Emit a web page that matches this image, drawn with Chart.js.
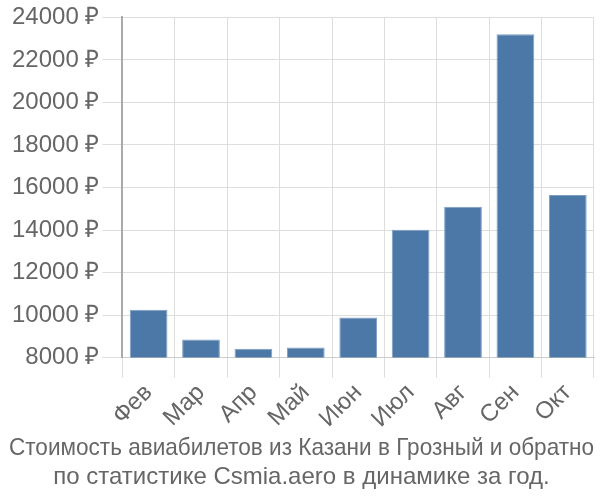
<!DOCTYPE html>
<html>
<head>
<meta charset="utf-8">
<script src="https://cdn.jsdelivr.net/npm/chart.js@4"></script>
<style>
  html, body { margin: 0; padding: 0; background: #fff; }
  #wrap { width: 600px; height: 500px; }
</style>
</head>
<body>
<div id="wrap"><canvas id="priceChart"></canvas></div>
<script>
const months = ['Фев', 'Мар', 'Апр', 'Май', 'Июн', 'Июл', 'Авг', 'Сен', 'Окт'];
const prices = [10250, 8850, 8420, 8470, 9880, 14010, 15090, 23210, 15650];
const titleLines = [
  'Стоимость авиабилетов из Казани в Грозный и обратно',
  'по статистике Csmia.aero в динамике за год.'
];

Chart.defaults.font.family = '"Liberation Sans", Arial, sans-serif';
Chart.defaults.color = '#666';

const ctx = document.getElementById('priceChart').getContext('2d');
new Chart(ctx, {
  type: 'bar',
  data: {
    labels: months,
    datasets: [{
      data: prices,
      backgroundColor: '#4c78a8',
      borderColor: '#7d9fc4',
      borderWidth: 1
    }]
  },
  options: {
    responsive: true,
    maintainAspectRatio: false,
    animation: false,
    layout: { padding: { left: 9, right: 6, top: -2, bottom: 0 } },
    plugins: {
      legend: { display: false },
      tooltip: { enabled: false },
      title: {
        display: true,
        position: 'bottom',
        text: titleLines,
        color: '#666',
        font: { size: 24, weight: 'normal', lineHeight: 1.2 },
        padding: { top: 0, bottom: 8 }
      }
    },
    scales: {
      x: {
        grid: { color: '#ddd', tickLength: 20, drawTicks: true },
        border: { color: '#ccc' },
        ticks: { font: { size: 24 }, maxRotation: 45, minRotation: 45, padding: 1, color: '#666' }
      },
      y: {
        min: 8000,
        max: 24000,
        grid: { color: '#ddd', tickLength: 20 },
        border: { color: '#aaa', width: 2 },
        ticks: {
          stepSize: 2000,
          font: { size: 24 },
          color: '#666',
          callback: v => v + ' ₽'
        }
      }
    }
  }
});
</script>
</body>
</html>
